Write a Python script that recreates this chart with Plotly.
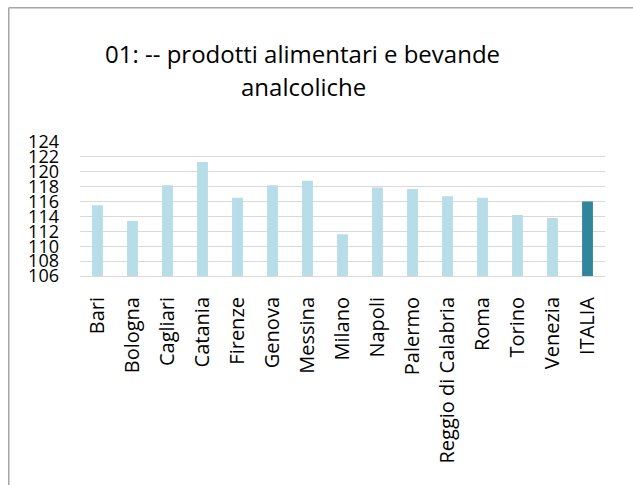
import plotly.graph_objects as go

# Data
cities = ['Bari', 'Bologna', 'Cagliari', 'Catania', 'Firenze', 'Genova', 'Messina',
          'Milano', 'Napoli', 'Palermo', 'Reggio di Calabria', 'Roma', 'Torino',
          'Venezia', 'ITALIA']
values = [115.5, 113.4, 118.2, 121.3, 116.5, 118.2, 118.8,
          111.6, 117.9, 117.7, 116.7, 116.5, 114.2, 113.8, 116.0]
y_ticks = [106, 108, 110, 112, 114, 116, 118, 120, 122, 124]
title_lines = ['01: -- prodotti alimentari e bevande', 'analcoliche']

colors = ['#b7dde8'] * (len(cities) - 1) + ['#31859c']

W, H = 633, 485
L, R, T = 80, 28, 142.3
B = H - 275.7
pw, ph = W - L - R, H - T - B


def px(x):
    return (x - L) / pw


def py(y):
    return (H - B - y) / ph


fig = go.Figure()
fig.add_trace(go.Bar(
    x=cities,
    y=values,
    marker=dict(color=colors, line=dict(width=0)),
    hovertemplate='%{x}: %{y:.1f}<extra></extra>'
))

fig.update_layout(
    width=W,
    height=H,
    margin=dict(l=L, r=R, t=T, b=B, pad=0),
    paper_bgcolor='white',
    plot_bgcolor='white',
    font=dict(family='Open Sans', color='black'),
    showlegend=False,
    bargap=0.69,
    xaxis=dict(
        tickangle=-90,
        tickfont=dict(size=20),
        ticklabelstandoff=12,
        showgrid=False,
        showline=True,
        linecolor='#d9d9d9',
        linewidth=1,
        zeroline=False,
    ),
    yaxis=dict(
        range=[106, 124],
        tickvals=y_ticks,
        tickfont=dict(size=18),
        ticklabelstandoff=20,
        showgrid=True,
        gridcolor='#d9d9d9',
        gridwidth=1,
        zeroline=False,
        showline=False,
    ),
    annotations=[
        dict(text=title_lines[0], xref='paper', yref='paper',
             x=px(302), y=py(54), xanchor='center', yanchor='middle',
             showarrow=False, font=dict(family='Open Sans', size=24, color='black')),
        dict(text=title_lines[1], xref='paper', yref='paper',
             x=px(303), y=py(87), xanchor='center', yanchor='middle',
             showarrow=False, font=dict(family='Open Sans', size=24, color='black')),
    ],
    shapes=[
        # outer chart frame (left and top edges visible)
        dict(type='line', xref='paper', yref='paper',
             x0=px(8.75), x1=px(8.75), y0=py(8.75), y1=py(H + 30),
             line=dict(color='#a6a6a6', width=1.5)),
        dict(type='line', xref='paper', yref='paper',
             x0=px(8.75), x1=px(W + 30), y0=py(8.75), y1=py(8.75),
             line=dict(color='#a6a6a6', width=1.5)),
    ],
)

# drop the default body margin so the figure fills the window exactly
fig.write_html('out.html', config={'displayModeBar': False}, post_script=(
    "document.body.style.margin='0';"
    "document.body.style.overflow='hidden';"
))
